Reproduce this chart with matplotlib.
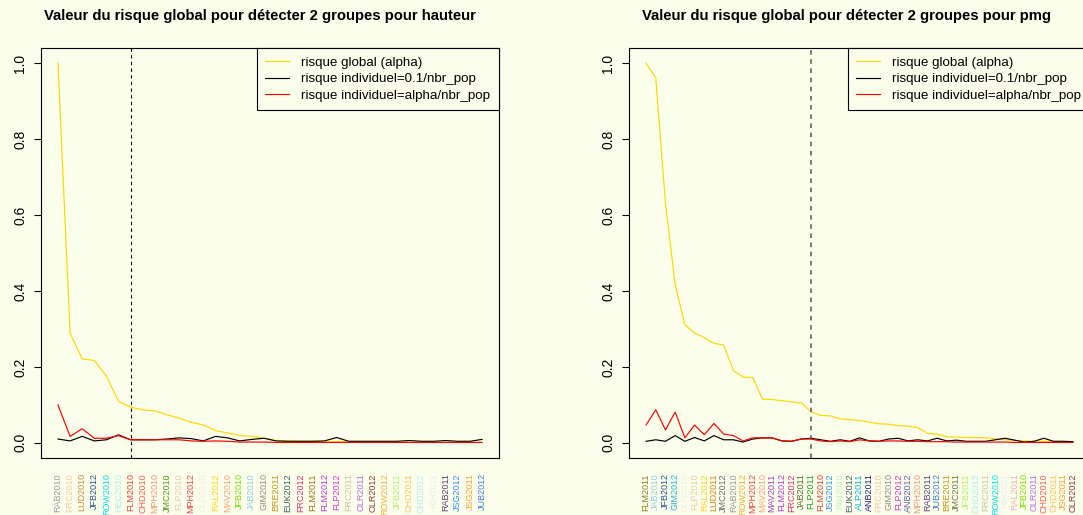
import matplotlib
matplotlib.use("Agg")
import matplotlib.pyplot as plt

plt.rcParams['font.family'] = ['Liberation Sans', 'DejaVu Sans']

BG = '#FBFEEA'

# ---- left panel : hauteur
pops_h = ["RAB2010", "FRC2010", "LUD2010", "JFB2012", "ROW2010", "HEC2010", "FLM2010",
          "CHD2010", "MPH2010", "JMC2010", "FLP2010", "MPH2012", "OLR2010", "RAL2012",
          "MAV2010", "JFB2010", "JAB2010", "GIM2010", "BRE2011", "EUK2012", "FRC2012",
          "FLM2011", "FLM2012", "FLP2012", "FRC2011", "OLR2011", "OLR2012", "ROW2012",
          "JFB2011", "CHD2011", "CHD2012", "RIH2011", "RAB2011", "JSG2012", "JSG2011",
          "JUB2012"]
glob_h = [1.0, 0.289, 0.221, 0.217, 0.176, 0.109, 0.094, 0.087, 0.084, 0.074, 0.065, 0.054,
          0.047, 0.032, 0.026, 0.019, 0.017, 0.012, 0.006, 0.005, 0.004, 0.004, 0.003, 0.003,
          0.003, 0.002, 0.002, 0.002, 0.002, 0.001, 0.001, 0.001, 0.001, 0.001, 0.001, 0.001]
ind01_h = [0.010, 0.005, 0.017, 0.005, 0.008, 0.021, 0.008, 0.008, 0.008, 0.010, 0.013, 0.011,
           0.005, 0.017, 0.013, 0.005, 0.009, 0.012, 0.005, 0.004, 0.004, 0.004, 0.005, 0.014,
           0.004, 0.004, 0.004, 0.004, 0.004, 0.006, 0.004, 0.004, 0.006, 0.004, 0.004, 0.009]
indal_h = [0.100, 0.017, 0.037, 0.012, 0.012, 0.019, 0.008, 0.008, 0.008, 0.008, 0.008, 0.005,
           0.004, 0.005, 0.004, 0.002, 0.002, 0.002, 0.001, 0.001, 0.001, 0.001, 0.001, 0.001,
           0.001, 0.001, 0.001, 0.001, 0.001, 0.001, 0.001, 0.001, 0.001, 0.001, 0.001, 0.001]
cut_h = 7

# ---- right panel : pmg
pops_p = ["FLM2011", "JAB2010", "JFB2012", "GIM2012", "OLR2010", "FLP2010", "RAL2012",
          "LUD2011", "JMC2012", "RAB2010", "ROW2012", "MPH2012", "MAV2010", "MAV2011",
          "FLM2012", "FRC2012", "JAB2011", "FLP2011", "FLM2010", "JSG2012", "RIH2010",
          "EUK2012", "ALP2011", "ANB2011", "FRC2010", "GIM2010", "FLP2012", "ANB2012",
          "MPH2010", "RAB2011", "JUB2012", "BRE2011", "JMC2011", "JFB2011", "CHD2012",
          "FRC2011", "ROW2010", "RIH2011", "RAL2011", "JFB2010", "OLR2011", "CHD2010",
          "CHD2011", "JSG2011", "OLR2012"]
glob_p = [1.0, 0.961, 0.631, 0.416, 0.311, 0.289, 0.277, 0.262, 0.258, 0.190, 0.173, 0.172,
          0.115, 0.114, 0.111, 0.108, 0.105, 0.082, 0.072, 0.071, 0.063, 0.061, 0.059, 0.054,
          0.050, 0.049, 0.045, 0.044, 0.040, 0.025, 0.023, 0.016, 0.015, 0.014, 0.014, 0.013,
          0.011, 0.008, 0.006, 0.005, 0.004, 0.004, 0.003, 0.003, 0.003]
ind01_p = [0.004, 0.008, 0.004, 0.019, 0.004, 0.014, 0.005, 0.019, 0.008, 0.008, 0.002, 0.010,
           0.013, 0.013, 0.005, 0.004, 0.010, 0.012, 0.008, 0.004, 0.008, 0.004, 0.013, 0.005,
           0.004, 0.010, 0.012, 0.005, 0.008, 0.005, 0.012, 0.005, 0.007, 0.004, 0.004, 0.004,
           0.008, 0.012, 0.007, 0.002, 0.004, 0.012, 0.004, 0.004, 0.003]
indal_p = [0.047, 0.087, 0.034, 0.081, 0.013, 0.047, 0.021, 0.051, 0.023, 0.019, 0.005, 0.013,
           0.013, 0.013, 0.005, 0.004, 0.010, 0.010, 0.005, 0.003, 0.005, 0.003, 0.008, 0.005,
           0.004, 0.005, 0.005, 0.004, 0.004, 0.003, 0.003, 0.003, 0.002, 0.002, 0.002, 0.002,
           0.002, 0.002, 0.001, 0.001, 0.001, 0.001, 0.001, 0.001, 0.001]
cut_p = 18

pop_colors = {
    "RAB2010": "#9C9C9C", "FRC2010": "#F5CBA7", "LUD2010": "#CD853F", "JFB2012": "#27548B",
    "ROW2010": "#00E5EE", "HEC2010": "#AEEEEE", "FLM2010": "#E8413C", "CHD2010": "#FF5A5A",
    "MPH2010": "#F4957A", "JMC2010": "#4F9A1A", "FLP2010": "#EACBAA", "MPH2012": "#F04545",
    "OLR2010": "#F0F0E2", "RAL2012": "#FFD21A", "MAV2010": "#F8A07A", "JFB2010": "#7CE000",
    "JAB2010": "#8ECDE6", "GIM2010": "#8E8E80", "BRE2011": "#C4961E", "EUK2012": "#3F5F5F",
    "FRC2012": "#E0307A", "FLM2011": "#8B7A22", "FLM2012": "#C034E0", "FLP2012": "#E830C8",
    "FRC2011": "#C6C6A0", "OLR2011": "#B070F0", "OLR2012": "#8B3A3A", "ROW2012": "#F0B040",
    "JFB2011": "#B4F070", "CHD2011": "#FFC25E", "CHD2012": "#A6F2F2", "RIH2011": "#EDEDEA",
    "RAB2011": "#5F3C7E", "JSG2012": "#3390FF", "JSG2011": "#FFA030", "JUB2012": "#3F7FE0",
    "GIM2012": "#1EB2E2", "LUD2011": "#D08020", "JMC2012": "#6E6E6E", "MAV2011": "#A040D0",
    "JAB2011": "#556B2F", "FLP2011": "#22A022", "RIH2010": "#C4F2C4", "ALP2011": "#00B2E2",
    "ANB2011": "#20207E", "ANB2012": "#6060B0", "JMC2011": "#6B7B40", "RAL2011": "#F2B0B0",
}


def panel(ax, pops, glob, ind01, indal, cut, cut_color, cut_lw):
    n = len(pops)
    x = list(range(1, n + 1))
    ax.set_facecolor(BG)
    ax.plot(x, glob, color='#FFD700', lw=0.85, label='risque global (alpha)')
    ax.plot(x, ind01, color='black', lw=0.85, label='risque individuel=0.1/nbr_pop')
    ax.plot(x, indal, color='red', lw=0.85, label='risque individuel=alpha/nbr_pop')
    ax.axvline(cut, color=cut_color, lw=cut_lw, dashes=(3, 3))
    pad = 0.04 * (n - 1)
    ax.set_xlim(1 - pad, n + pad)
    ax.set_ylim(-0.04, 1.04)
    ax.set_yticks([0, 0.2, 0.4, 0.6, 0.8, 1.0])
    ax.set_yticklabels(['0.0', '0.2', '0.4', '0.6', '0.8', '1.0'],
                       rotation=90, va='center', fontsize=10)
    ax.tick_params(axis='y', length=5, width=0.8, pad=5)
    ax.set_xticks(x)
    ax.set_xticklabels(pops, rotation=90, fontsize=6.5)
    ax.tick_params(axis='x', length=0, pad=11)
    for lab, p in zip(ax.get_xticklabels(), pops):
        lab.set_color(pop_colors.get(p, 'gray'))
    for s in ax.spines.values():
        s.set_linewidth(0.8)
    leg = ax.legend(loc='upper right', borderaxespad=0, fancybox=False, framealpha=1,
                    facecolor=BG, edgecolor='black', fontsize=9.6, handlelength=1.8,
                    handletextpad=0.9, labelspacing=0.3, borderpad=0.65)
    leg.get_frame().set_linewidth(0.8)


W, H = 1083, 515
fig = plt.figure(figsize=(W / 100, H / 100), dpi=100, facecolor=BG)

ax1 = fig.add_axes([41 / W, 1 - 458 / H, 458 / W, 410 / H])
panel(ax1, pops_h, glob_h, ind01_h, indal_h, cut_h, 'black', 0.8)
ax2 = fig.add_axes([629 / W, 1 - 458 / H, 461 / W, 410 / H])
panel(ax2, pops_p, glob_p, ind01_p, indal_p, cut_p, '#555555', 1.1)

fig.text(260 / W, 1 - 16 / H, "Valeur du risque global pour détecter 2 groupes pour hauteur",
         ha='center', va='center', fontsize=10.7, fontweight='bold')
fig.text(846 / W, 1 - 16 / H, "Valeur du risque global pour détecter 2 groupes pour pmg",
         ha='center', va='center', fontsize=10.7, fontweight='bold')

fig.savefig('out.png', dpi=100, facecolor=BG)
